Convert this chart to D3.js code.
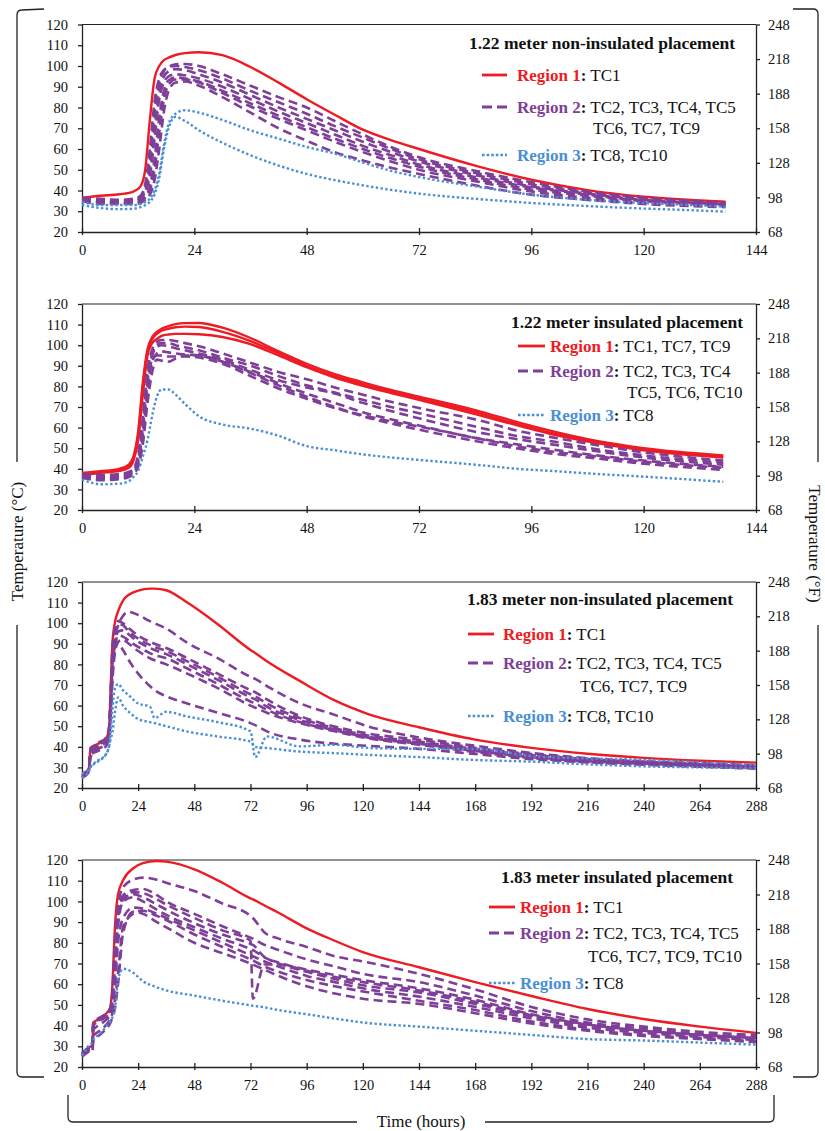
<!DOCTYPE html>
<html>
<head>
<meta charset="utf-8">
<script src="https://cdn.jsdelivr.net/npm/d3@7"></script>
<style>
  html, body { margin: 0; padding: 0; background: #fff; }
  svg { display: block; }
  svg text { font-family: "Liberation Serif", "Times New Roman", serif; }
</style>
</head>
<body>
<script>
// ---- data (hours, °C) ----
const tempTicksC = [20, 30, 40, 50, 60, 70, 80, 90, 100, 110, 120];
const tempTicksF = [68, 98, 128, 158, 188, 218, 248];
const hourTicks144 = [0, 24, 48, 72, 96, 120, 144];
const hourTicks288 = [0, 24, 48, 72, 96, 120, 144, 168, 192, 216, 240, 264, 288];

const titles = [
    '1.22 meter non-insulated placement',
    '1.22 meter insulated placement',
    '1.83 meter non-insulated placement',
    '1.83 meter insulated placement'
];
const region1Labels = ['TC1', 'TC1, TC7, TC9', 'TC1', 'TC1'];
const region2Labels = [
    ['TC2, TC3, TC4, TC5', 'TC6, TC7, TC9'],
    ['TC2, TC3, TC4', 'TC5, TC6, TC10'],
    ['TC2, TC3, TC4, TC5', 'TC6, TC7, TC9'],
    ['TC2, TC3, TC4, TC5', 'TC6, TC7, TC9, TC10']
];
const region3Labels = ['TC8, TC10', 'TC8', 'TC8, TC10', 'TC8'];

// 1.22 m non-insulated
const hours122N = [0, 4, 8, 11, 12.5, 13.5, 14.5, 15.5, 16.5, 17.5, 18.5, 20, 22, 25, 30, 36, 42, 48, 54, 60, 66, 72, 84, 96, 108, 120, 130, 137.5];
const r1_122N = [
    [36.5, 37.5, 38.2, 39.5, 42, 50, 74, 94, 100, 102.8, 104, 105.3, 106.2, 106.6, 105.2, 99.5, 92, 84, 76.5, 69.3, 64.3, 60, 52, 45.2, 40.2, 37, 35.5, 34.6]
];
const r2_122N = [
    [36, 35.5, 35, 35.5, 37, 41, 55, 78, 92, 97.5, 99.5, 100.8, 101, 100, 96, 90.5, 85, 80, 73.5, 67, 61, 56, 49.5, 44, 39.5, 36.5, 35, 34],
    [36.5, 36, 35.5, 36, 37.5, 43, 60, 83, 94, 98, 99.5, 100, 99.5, 98, 94, 88, 82.5, 77, 71, 65.5, 60, 55, 48.5, 43, 39, 36, 34.5, 33.8],
    [35.5, 35, 34.8, 35, 36.5, 40, 50, 70, 88, 95, 97.5, 98.5, 98, 96, 92, 86, 80, 74.5, 69, 63.5, 58.5, 54, 47.5, 42, 38.5, 35.5, 34.2, 33.5],
    [36, 35, 34.5, 34.8, 36, 39, 47, 65, 84, 92, 95, 96, 95.5, 94, 90, 84, 78, 72.5, 67, 61.5, 57, 52.5, 46.5, 41.5, 38, 35, 34, 33.2],
    [35, 34.5, 34, 34.2, 35, 37, 42, 55, 75, 88, 93, 94.5, 94, 92.5, 88, 82, 76, 70.5, 65, 60, 55.5, 51.5, 45.5, 40.5, 37.5, 34.8, 33.6, 33],
    [35.5, 34.5, 34, 34, 35, 36.5, 40, 50, 68, 84, 91, 93.5, 93.5, 92, 87, 80.5, 74.5, 69, 63.5, 58.5, 54, 50, 44.5, 39.5, 36.5, 34.2, 33.2, 32.5],
    [35, 33.5, 33.5, 33.5, 34, 35.5, 38, 45, 60, 78, 88, 92, 92.5, 90.5, 85, 77.5, 70, 64, 58.5, 54.5, 51, 48, 42.5, 38, 35.5, 33.5, 32.5, 32]
];
const r3_122N = [
    [34.5, 33, 33, 33, 33.5, 34.5, 36, 40, 48, 62, 72, 77, 78.7, 77.5, 74, 69, 65, 61, 57.8, 53.5, 49.5, 46.5, 42, 38, 35.5, 34, 33, 32.2],
    [33, 31.5, 31, 31.2, 32, 33, 34.5, 38, 46, 60, 70, 75.5, 73.5, 69, 63, 57, 52, 48, 45, 42.5, 40.3, 38.5, 36, 34, 32.5, 31.3, 30.5, 29.8]
];

// 1.22 m insulated
const hours122I = [0, 4, 8, 10, 11, 12, 13, 14, 15, 16, 17, 18.5, 20, 22, 25, 30, 36, 42, 48, 54, 60, 66, 72, 84, 94, 100, 110, 120, 137];
const r1_122I = [
    [38, 38.8, 40, 42, 46, 58, 82, 98, 104, 106.5, 108, 109.3, 110.2, 110.7, 110.8, 108.5, 103.5, 97, 91, 86, 82, 78.3, 75, 68.5, 62, 58.5, 53.5, 50, 46.5],
    [37.5, 38.5, 39.5, 41, 45, 56, 80, 97, 103, 105.5, 107, 108, 108.7, 109, 108.8, 106.5, 102, 96, 90, 85, 81, 77.5, 74.2, 67.5, 61, 57.5, 53, 49.5, 46],
    [37, 38, 39, 40.5, 44, 54, 76, 95, 101, 103, 104.5, 105.2, 105.5, 105.5, 105.3, 104, 100.5, 95, 89.3, 84.3, 80.3, 76.8, 73.5, 66.5, 60.5, 57, 52.5, 49, 45.5]
];
const r2_122I = [
    [37.5, 37, 37.5, 38.5, 40, 47, 65, 88, 98, 101.5, 102.5, 102.5, 102, 101, 99.5, 96, 91.5, 87, 83.5, 79.5, 76, 72.5, 69.5, 64, 58, 55.5, 51.5, 48, 44],
    [36.5, 36, 36.5, 37.5, 39, 45, 62, 85, 96, 100, 101, 101, 100, 99, 97.5, 94, 90, 85, 80.5, 77, 73.5, 70, 67, 60.5, 55.5, 53.5, 49.5, 46.5, 43],
    [36, 35.5, 36, 37, 38.5, 43, 58, 82, 95, 99, 100, 99.5, 98.5, 97.5, 96, 93, 88, 83, 79.5, 76.5, 72, 68, 64.5, 58, 54, 52, 48.5, 45.5, 42],
    [36, 35, 35.5, 36.5, 38, 42, 55, 78, 92, 96, 97, 96.5, 96, 95.5, 95, 92, 87, 81.5, 76.5, 72, 67.5, 64, 61, 55, 51.5, 49.5, 46.5, 44, 41],
    [35.5, 34.5, 35, 36, 37.5, 41, 52, 72, 87, 93, 92.5, 92, 93.5, 95, 95, 92, 86.5, 80.5, 75, 70, 65.5, 62, 59, 53.5, 49.5, 47.5, 45, 42.5, 39.5],
    [37, 36.5, 37, 38, 39.5, 44, 60, 83, 93, 95, 95, 94.5, 94.5, 94.5, 94, 91, 85, 79, 74, 69.5, 66, 63, 60.5, 55, 50.5, 48.5, 46, 43.5, 40.5]
];
const r3_122I = [
    [34.8, 32.5, 32.8, 34, 36, 39, 46, 54, 66, 75, 78.5, 78.5, 76, 71.5, 65.5, 61.5, 59.5, 56, 51, 49, 47, 45.5, 44.3, 42, 39.8, 39, 37.5, 36.2, 33.7]
];

// 1.83 m non-insulated
const hours183N = [0, 3, 3.6, 7, 10, 11.5, 12.3, 13, 14, 15.5, 17.5, 20, 24, 29, 31, 36, 45, 58, 72, 74, 79, 93, 108, 122, 144, 168, 192, 216, 240, 264, 288];
const r1_183N = [
    [25, 30, 39.5, 41.5, 43.5, 48, 70, 90, 100, 106, 111, 113.8, 115.8, 116.8, 116.8, 116, 110, 99.5, 87, 85.5, 81.5, 72, 62.5, 56, 49.5, 43.5, 39.5, 36.6, 34.6, 33.2, 32.3]
];
const r2_183N = [
    [26, 29, 37, 41, 43, 47, 62, 80, 92, 99, 103.5, 105.5, 104, 101, 100, 97.4, 90.5, 83, 74, 73, 69.5, 61.2, 55.5, 50, 44.5, 40.5, 37, 34.5, 33, 32, 31],
    [25, 28, 38, 42, 44, 49, 68, 88, 97, 101, 100, 97.5, 94, 91, 90, 88, 83, 75.5, 67.5, 66.5, 63, 55, 49.8, 46.5, 43.4, 39.5, 36.5, 34, 32.8, 31.8, 30.8],
    [26, 29, 39, 41, 43, 48, 65, 85, 95, 99.5, 99, 96, 92.5, 89.5, 88.5, 86.5, 81.5, 74, 65.5, 64.5, 61, 54, 49, 45.5, 42.5, 39, 36, 34, 32.5, 31.5, 30.5],
    [25.5, 28.5, 36, 40, 42, 46, 60, 78, 90, 96, 96.5, 94.5, 91, 88, 87, 85, 80, 72.5, 64, 63, 59.5, 53, 48.5, 45, 42, 38.5, 35.5, 33.5, 32, 31, 30],
    [27, 29, 35, 39, 41, 45, 58, 75, 88, 94, 93.5, 91.5, 88.5, 85.5, 84.5, 83, 78, 70.5, 62, 61, 58, 52, 48, 44.5, 41.5, 38, 35, 33, 31.8, 30.8, 29.8],
    [26, 29, 37, 40.5, 42.5, 46, 57, 72, 85, 91, 92, 90, 86.5, 83, 82, 80, 75.5, 68.5, 60, 59, 56.5, 51.5, 47.5, 44.2, 41, 37.5, 34.5, 32.5, 31.5, 30.5, 29.5],
    [25, 28, 36, 38, 40, 44, 55, 80, 88, 90, 87, 82, 75.5, 69.5, 67.5, 64.5, 61, 56.5, 51.5, 50.5, 47.5, 43.5, 41.5, 40.5, 39, 36.5, 34, 32.5, 31.3, 30.3, 29.5]
];
const r3_183N = [
    [27, 29, 30, 33, 36, 40, 48, 58, 68, 70.5, 67.5, 65, 61, 59.5, 54, 57, 54.7, 52, 47.5, 35, 45, 40.2, 41, 39.5, 39, 39, 35.5, 34.4, 33.7, 32.5, 31.2],
    [25, 28, 30, 33.5, 36, 40, 44, 47, 56, 64, 60, 57, 53.5, 52, 51.5, 50, 47.4, 45, 42.5, 40, 39.4, 37.7, 36.9, 36.1, 35, 33.6, 32.8, 31.5, 30.5, 30, 29.6]
];

// 1.83 m insulated
const hours183I = [0, 3, 4.5, 4.8, 7, 10, 12, 13, 14, 15.4, 17.6, 21.9, 26, 32, 36, 48, 60, 72, 73, 78, 84, 96, 108, 120, 144, 168, 192, 216, 240, 264, 288];
const r1_183I = [
    [25.5, 29.5, 30.5, 41.5, 43, 45.5, 48.5, 60, 86, 103.5, 110.3, 116, 118.5, 119.5, 119.2, 115.5, 109, 101.5, 101, 98, 94.5, 87, 81, 75.5, 68.2, 61, 54.3, 48, 43.2, 39.5, 36.5]
];
const r2_183I = [
    [26, 29, 30.5, 41, 43, 45.5, 48, 56, 78, 98, 107, 110.5, 111.5, 110.5, 109, 105, 99, 93, 92, 85, 82, 78, 73.5, 71, 65, 57.5, 49, 43, 39.5, 37, 35.5],
    [26.5, 29.5, 30, 41.5, 43.5, 45.5, 48, 55, 75, 96, 103, 105.5, 106, 103, 100, 94, 88, 82.5, 82, 79, 76.5, 72, 68.5, 65, 61, 54.5, 47, 41.5, 38.5, 36, 34.5],
    [25.5, 29, 30, 41, 43, 45, 47.5, 54, 72, 94, 102, 104.5, 104, 101, 98.5, 92, 86, 81, 53, 69.5, 69.5, 66.5, 63.5, 61, 57, 51.5, 45, 40.5, 37.5, 35.5, 34],
    [26, 28.5, 29.5, 40.5, 42.5, 44.5, 47, 53, 70, 92, 101, 103.5, 102, 98.5, 96, 89.5, 84, 79.5, 79, 73, 70.5, 67, 64.5, 62, 58, 52.5, 45.5, 40.5, 37.5, 35.5, 34],
    [27, 29, 30, 40, 42, 44, 46.5, 51, 66, 88, 100, 102, 100, 96, 93.5, 87.5, 82, 77, 76.5, 73, 70, 66, 62.5, 59.5, 56, 50.5, 44.5, 39.5, 37, 35, 33.5],
    [26, 28, 29, 38, 40, 42.5, 45, 48, 58, 80, 92, 97, 96.5, 94, 92, 86, 80, 74, 73.5, 71, 68.5, 64, 61, 58, 54, 49, 43.5, 39, 36.5, 34.5, 33],
    [25.5, 28, 27.5, 35, 37, 40, 43, 46, 52, 65, 88, 94, 95.5, 93, 91, 84, 78, 72, 71.5, 68.5, 66, 62, 59, 56.5, 52, 47.5, 42, 38, 35.5, 34, 32.5],
    [25, 27.5, 28.5, 33, 35, 38, 41, 44, 48, 60, 85, 95, 94, 90, 87.5, 80, 75, 70, 69.5, 67, 64, 59, 55.5, 53, 50.5, 46, 41, 37.5, 35, 33.5, 32]
];
const r3_183I = [
    [25.5, 30.5, 32, 33, 35.5, 39, 42, 44, 47.5, 62, 67.5, 65.5, 61.5, 58.5, 57, 54.5, 52, 49.8, 49.6, 48.8, 47.5, 45.5, 43.4, 41.5, 39.5, 37.5, 35.5, 33.5, 32.8, 31.8, 30.8]
];

// ---- layout ----
const FONT = '"Liberation Serif", "Times New Roman", serif';
const RED = '#ed1c24', PURPLE = '#7f3f98', BLUE = '#4a8fd6';
const plotLeft = 82, plotRight = 756;

const panels = [
    { hours: hours122N, r1: r1_122N, r2: r2_122N, r3: r3_122N, xMax: 144, xTicks: hourTicks144,
      top: 24.5, bottom: 232, titleX: 735, titleY: 49, legX: [482, 507], legTextX: 517, rows: [75, 107, 155], contX: 593, contY: 134 },
    { hours: hours122I, r1: r1_122I, r2: r2_122I, r3: r3_122I, xMax: 144, xTicks: hourTicks144,
      top: 304, bottom: 510, titleX: 743, titleY: 328, legX: [518, 545], legTextX: 550, rows: [346, 371, 415], contX: 627, contY: 398 },
    { hours: hours183N, r1: r1_183N, r2: r2_183N, r3: r3_183N, xMax: 288, xTicks: hourTicks288,
      top: 582, bottom: 788, titleX: 733, titleY: 605, legX: [468, 494], legTextX: 503, rows: [634, 663, 716], contX: 580, contY: 692 },
    { hours: hours183I, r1: r1_183I, r2: r2_183I, r3: r3_183I, xMax: 288, xTicks: hourTicks288,
      top: 860, bottom: 1067, titleX: 733, titleY: 883, legX: [489, 515], legTextX: 520, rows: [907, 933, 983], contX: 588, contY: 962 }
];

const svg = d3.select('body').append('svg')
    .attr('width', 825)
    .attr('height', 1131)
    .attr('font-family', FONT);

svg.append('rect').attr('width', 825).attr('height', 1131).attr('fill', '#fff');

const styles = {
    r1: { color: RED, width: 2.4, dash: null },
    r2: { color: PURPLE, width: 2.6, dash: '9,5' },
    r3: { color: BLUE, width: 2.4, dash: '2.4,2.4' }
};

panels.forEach((p, i) => {
    const g = svg.append('g');
    const x = d3.scaleLinear().domain([0, p.xMax]).range([plotLeft, plotRight]);
    const y = d3.scaleLinear().domain([20, 120]).range([p.bottom, p.top]);
    const yF = d3.scaleLinear().domain([68, 248]).range([p.bottom, p.top]);

    // top frame line
    g.append('line')
        .attr('x1', plotLeft).attr('x2', plotRight)
        .attr('y1', p.top).attr('y2', p.top)
        .attr('stroke', '#222').attr('stroke-width', 1.2);

    const axL = g.append('g').attr('transform', `translate(${plotLeft},0)`)
        .call(d3.axisLeft(y).tickValues(tempTicksC).tickSize(4).tickSizeOuter(0).tickPadding(10));
    const axR = g.append('g').attr('transform', `translate(${plotRight},0)`)
        .call(d3.axisRight(yF).tickValues(tempTicksF).tickSize(4).tickSizeOuter(0).tickPadding(8));
    const axB = g.append('g').attr('transform', `translate(0,${p.bottom})`)
        .call(d3.axisBottom(x).tickValues(p.xTicks).tickSize(3).tickSizeOuter(0).tickPadding(10));
    axB.selectAll('.tick line').attr('y1', -4);

    [axL, axR, axB].forEach(a => {
        a.attr('font-family', FONT).attr('font-size', 14.5);
        a.select('.domain').attr('stroke', '#222').attr('stroke-width', 1.3);
        a.selectAll('.tick line').attr('stroke', '#222').attr('stroke-width', 1.3);
        a.selectAll('.tick text').attr('fill', '#111');
    });

    const line = d3.line()
        .x((d, k) => x(p.hours[k]))
        .y(d => y(d))
        .curve(d3.curveMonotoneX);

    ['r1', 'r2', 'r3'].forEach(key => {
        const s = styles[key];
        g.append('g').selectAll('path')
            .data(p[key])
            .join('path')
            .attr('d', line)
            .attr('fill', 'none')
            .attr('stroke', s.color)
            .attr('stroke-width', s.width)
            .attr('stroke-dasharray', s.dash);
    });

    // title
    g.append('text')
        .attr('x', p.titleX).attr('y', p.titleY)
        .attr('text-anchor', 'end')
        .attr('font-size', 17.5).attr('font-weight', 'bold')
        .attr('fill', '#111')
        .text(titles[i]);

    // legend rows
    const legendRows = [
        { key: 'r1', name: 'Region 1', label: region1Labels[i] },
        { key: 'r2', name: 'Region 2', label: region2Labels[i][0] },
        { key: 'r3', name: 'Region 3', label: region3Labels[i] }
    ];
    legendRows.forEach((row, j) => {
        const s = styles[row.key];
        const cy = p.rows[j];
        g.append('line')
            .attr('x1', p.legX[0]).attr('x2', p.legX[1])
            .attr('y1', cy).attr('y2', cy)
            .attr('stroke', s.color)
            .attr('stroke-width', row.key === 'r3' ? 2.6 : 2.8)
            .attr('stroke-dasharray', row.key === 'r2' ? '10,5' : (row.key === 'r3' ? '2.6,2' : null));
        const t = g.append('text')
            .attr('x', p.legTextX).attr('y', cy + 5.5)
            .attr('font-size', 17);
        t.append('tspan').attr('fill', s.color).attr('font-weight', 'bold').text(row.name);
        t.append('tspan').attr('fill', '#111').attr('font-weight', 'bold').text(':');
        t.append('tspan').attr('fill', '#111').text(' ' + row.label);
    });
    g.append('text')
        .attr('x', p.contX).attr('y', p.contY)
        .attr('font-size', 17)
        .attr('fill', '#111')
        .text(region2Labels[i][1]);
});

// brackets and shared axis titles
const bracket = svg.append('g')
    .attr('fill', 'none')
    .attr('stroke', '#222')
    .attr('stroke-width', 1.3);
bracket.append('path').attr('d', 'M44,9 L22,10 Q17,10 17,15 L17,462 M17,625 L17,1072 Q17,1077 22,1077 L44,1077');
bracket.append('path').attr('d', 'M793,9 L813,9 Q818,9 818,14 L818,462 M818,625 L818,1072 Q818,1077 813,1077 L793,1077');
bracket.append('path').attr('d', 'M68,1095 L68,1117 Q68,1122 73,1122 L357,1122 M485,1122 L769,1122 Q774,1122 774,1117 L774,1095');

svg.append('text')
    .attr('transform', 'translate(23,541.5) rotate(-90)')
    .attr('text-anchor', 'middle')
    .attr('font-size', 17)
    .attr('fill', '#111')
    .text('Temperature (°C)');
svg.append('text')
    .attr('transform', 'translate(809,544) rotate(90)')
    .attr('text-anchor', 'middle')
    .attr('font-size', 17)
    .attr('fill', '#111')
    .text('Temperature (°F)');
svg.append('text')
    .attr('x', 421).attr('y', 1127)
    .attr('text-anchor', 'middle')
    .attr('font-size', 17)
    .attr('fill', '#111')
    .text('Time (hours)');
</script>
</body>
</html>
